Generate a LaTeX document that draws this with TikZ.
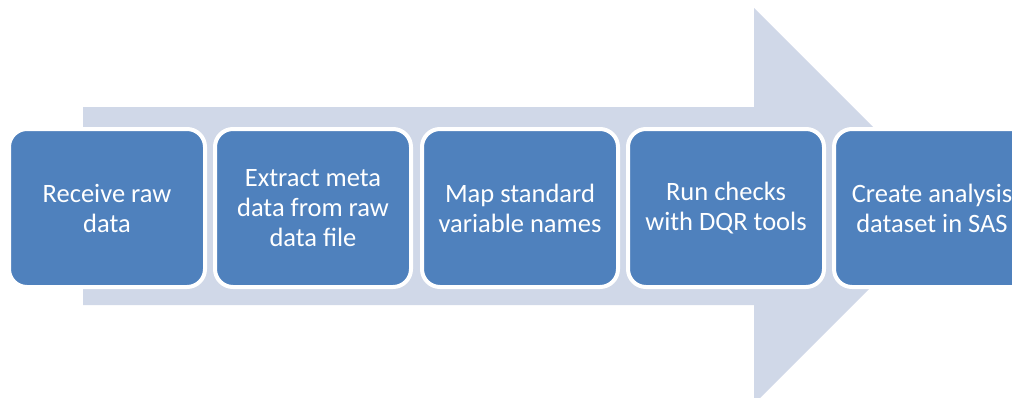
\documentclass[tikz,border=0pt]{standalone}
\usepackage{fontspec}
\setmainfont{Carlito}
\definecolor{arrowfill}{HTML}{D0D8E8}
\definecolor{boxfill}{HTML}{4F81BD}
\begin{document}
\begin{tikzpicture}[x=1pt,y=-1pt,
  stepbox/.style={draw=white, line width=4pt, fill=boxfill, rounded corners=18pt,
    minimum width=196pt, minimum height=158pt, inner sep=0pt, anchor=north west,
    text=white, align=center, font=\fontsize{26.5}{30}\selectfont}]
\useasboundingbox (0,0) rectangle (1012,397);
\clip (0,0) rectangle (1012,397);
\fill[arrowfill] (83,107) -- (754,107) -- (754,8) -- (952,206) -- (754,404) -- (754,305) -- (83,305) -- cycle;
\node[stepbox] (b1) at (7,127) {Receive raw\\data};
\node[stepbox] (b2) at (213,127) {Extract meta\\data from raw\\data file};
\node[stepbox] (b3) at (420,127) {Map standard\\variable names};
\node[stepbox] (b4) at (626,127) {Run checks\\with DQR tools};
\node[stepbox] (b5) at (832,127) {Create analysis\\dataset in SAS};
\end{tikzpicture}
\end{document}
